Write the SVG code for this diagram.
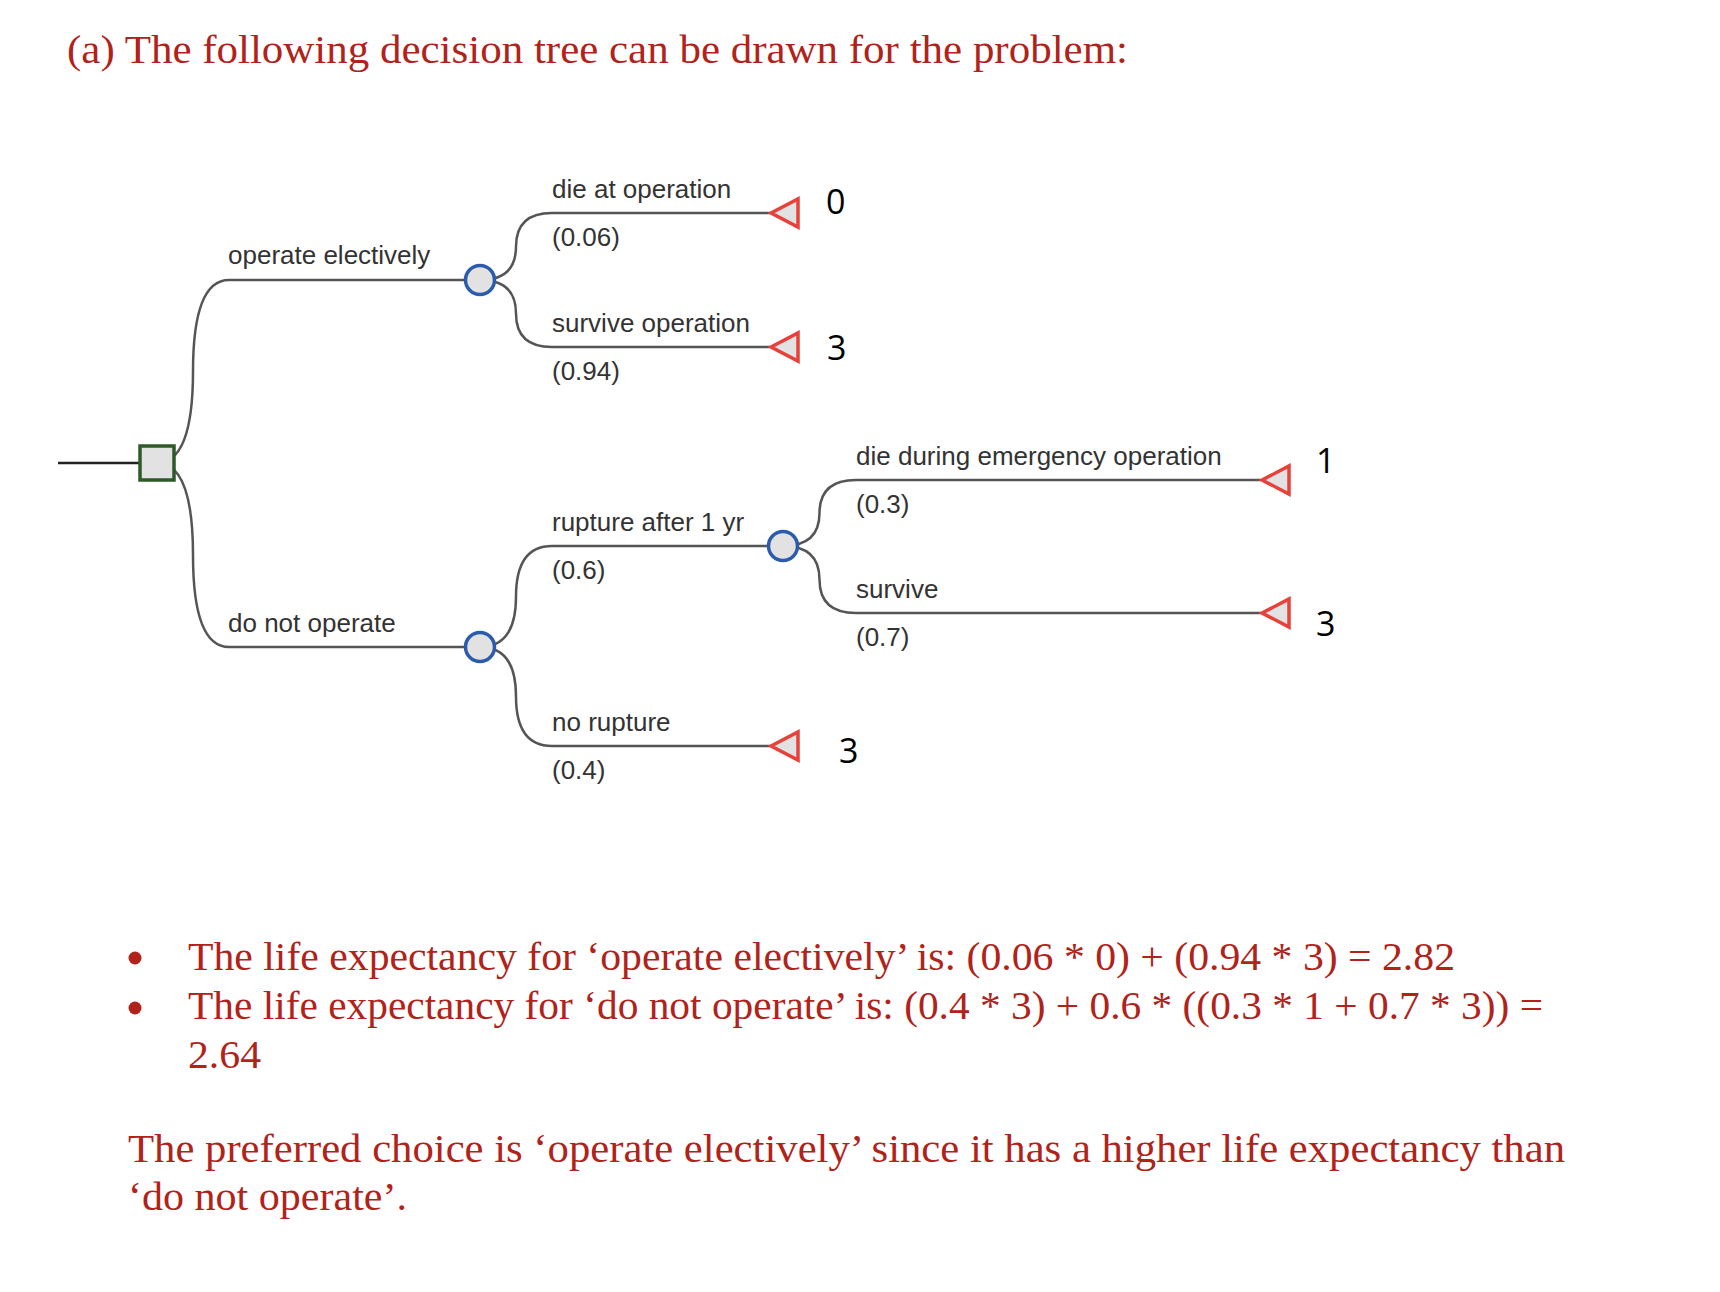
<svg xmlns="http://www.w3.org/2000/svg" width="1720" height="1292" viewBox="0 0 1720 1292">
<style>
.red{font-family:"Liberation Serif","Times New Roman",serif;font-size:40px;fill:#b1231a}
.lbl{font-family:"Liberation Sans",Arial,sans-serif;font-size:26px;fill:#333}
.pay{font-family:"Open Sans","Liberation Sans",sans-serif;font-size:34px;fill:#000}
.edge{fill:none;stroke:#555;stroke-width:2.5}
.chance{fill:#e2e2e2;stroke:#2b5cab;stroke-width:3.5}
.term{fill:#e2e2e2;stroke:#e8403a;stroke-width:3.5;stroke-linejoin:miter}
.dec{fill:#e2e2e2;stroke:#2e5a2a;stroke-width:3.5}
</style>
<rect width="1720" height="1292" fill="#fff"/>
<text class="red" x="67" y="63" textLength="1061" lengthAdjust="spacingAndGlyphs">(a) The following decision tree can be drawn for the problem:</text>

<g id="connectors">
<path class="edge" d="M58,463 H140" style="stroke:#222"/>
<path class="edge" d="M157,463 Q193,463 193,371.5 T229,280 H480"/>
<path class="edge" d="M157,463 Q193,463 193,555 T229,647 H480"/>
<path class="edge" d="M480,280 Q516,280 516,246.5 T552,213 H770"/>
<path class="edge" d="M480,280 Q516,280 516,313.5 T552,347 H770"/>
<path class="edge" d="M480,647 Q516,647 516,596.5 T552,546 H783"/>
<path class="edge" d="M480,647 Q516,647 516,696.5 T552,746 H770"/>
<path class="edge" d="M783,546 Q819.5,546 819.5,513 T856,480 H1261"/>
<path class="edge" d="M783,546 Q819.5,546 819.5,579.5 T856,613 H1261"/>
</g>

<g id="labels">
<text class="lbl" x="228" y="264">operate electively</text>
<text class="lbl" x="228" y="632">do not operate</text>
<text class="lbl" x="552" y="198">die at operation</text>
<text class="lbl" x="552" y="246">(0.06)</text>
<text class="lbl" x="552" y="332">survive operation</text>
<text class="lbl" x="552" y="380">(0.94)</text>
<text class="lbl" x="552" y="531">rupture after 1 yr</text>
<text class="lbl" x="552" y="579">(0.6)</text>
<text class="lbl" x="552" y="731">no rupture</text>
<text class="lbl" x="552" y="779">(0.4)</text>
<text class="lbl" x="856" y="465">die during emergency operation</text>
<text class="lbl" x="856" y="513">(0.3)</text>
<text class="lbl" x="856" y="598">survive</text>
<text class="lbl" x="856" y="646">(0.7)</text>
</g>

<g id="decision"><rect class="dec" x="140" y="446" width="34" height="34"/></g>
<g id="chance-operate"><circle class="chance" cx="480" cy="280" r="14.5"/></g>
<g id="chance-notoperate"><circle class="chance" cx="480" cy="647" r="14.5"/></g>
<g id="chance-rupture"><circle class="chance" cx="783" cy="546" r="14.5"/></g>

<g id="term-die-op"><polygon class="term" points="771,213 798,199 798,227"/><text class="pay" x="826" y="214">0</text></g>
<g id="term-survive-op"><polygon class="term" points="771,347 798,333 798,361"/><text class="pay" x="827" y="360">3</text></g>
<g id="term-die-emerg"><polygon class="term" points="1262,480 1289,466 1289,494"/><text class="pay" x="1316" y="473">1</text></g>
<g id="term-survive"><polygon class="term" points="1262,613 1289,599 1289,627"/><text class="pay" x="1316" y="636">3</text></g>
<g id="term-no-rupture"><polygon class="term" points="771,746 798,732 798,760"/><text class="pay" x="839" y="763">3</text></g>

<circle cx="135" cy="958" r="6.5" fill="#b1231a"/>
<circle cx="135" cy="1008" r="6.5" fill="#b1231a"/>
<text class="red" x="188" y="970" textLength="1267" lengthAdjust="spacingAndGlyphs">The life expectancy for ‘operate electively’ is: (0.06 * 0) + (0.94 * 3) = 2.82</text>
<text class="red" x="188" y="1019" textLength="1355" lengthAdjust="spacingAndGlyphs">The life expectancy for ‘do not operate’ is: (0.4 * 3) + 0.6 * ((0.3 * 1 + 0.7 * 3)) =</text>
<text class="red" x="188" y="1068" textLength="73" lengthAdjust="spacingAndGlyphs">2.64</text>
<text class="red" x="128" y="1162" textLength="1437" lengthAdjust="spacingAndGlyphs">The preferred choice is ‘operate electively’ since it has a higher life expectancy than</text>
<text class="red" x="128" y="1210" textLength="279" lengthAdjust="spacingAndGlyphs">‘do not operate’.</text>
</svg>
